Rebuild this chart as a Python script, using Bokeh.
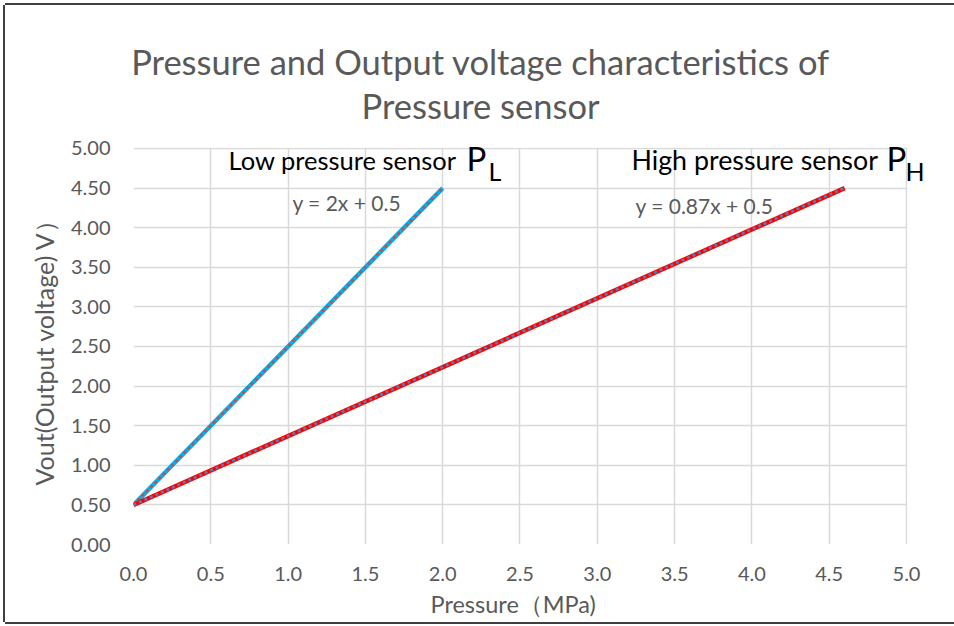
from bokeh.plotting import figure
from bokeh.models import Label, Range1d, FixedTicker, BoxAnnotation, Title
from bokeh.embed import file_html
from bokeh.resources import INLINE

# ---- data ----
pressure_low = [0.0, 2.0]
vout_low = [0.5, 4.5]
pressure_high = [0.0, 4.6]
vout_high = [0.5, 4.5]
trend_low_slope, trend_low_icpt = 2.0, 0.5
trend_high_slope, trend_high_icpt = 0.87, 0.5
x_ticks = [0.0, 0.5, 1.0, 1.5, 2.0, 2.5, 3.0, 3.5, 4.0, 4.5, 5.0]
x_tick_labels = ["0.0", "0.5", "1.0", "1.5", "2.0", "2.5", "3.0", "3.5", "4.0", "4.5", "5.0"]
y_ticks = [0.0, 0.5, 1.0, 1.5, 2.0, 2.5, 3.0, 3.5, 4.0, 4.5, 5.0]
y_tick_labels = ["0.00", "0.50", "1.00", "1.50", "2.00", "2.50", "3.00", "3.50", "4.00", "4.50", "5.00"]
x_max, y_max = 5.0, 5.0

trend_low_y = [trend_low_slope * x + trend_low_icpt for x in pressure_low]
trend_high_y = [trend_high_slope * x + trend_high_icpt for x in pressure_high]

FONT = "Lato"
GRAY = "#595959"
GRID = "#D9D9D9"

# frame extends beyond the 0..5 plot area (right and top) so that
# title and side labels can be drawn inside it; the extra area is masked white
p = figure(width=949, height=616, output_backend="svg", toolbar_location=None,
           x_range=Range1d(0, 5.1876), y_range=Range1d(0, 6.3636),
           frame_width=802, frame_height=504,
           min_border_left=128, min_border_right=19, min_border_top=35, min_border_bottom=77)
p.stylesheets = [":host { margin-left: 5px; margin-top: 5px; "
                 "box-shadow: -2px 0 0 0 #404040, 0 -2px 0 0 #404040, 0 2px 0 0 #404040; }"]
p.title.visible = False
p.background_fill_color = "white"
p.border_fill_color = "white"
p.outline_line_color = None

for ax in (p.xaxis[0], p.yaxis[0]):
    ax.axis_line_color = None
    ax.major_tick_line_color = None
    ax.minor_tick_line_color = None
    ax.major_tick_out = 0
    ax.major_tick_in = 0
    ax.major_label_text_font = FONT
    ax.major_label_text_font_size = "20px"
    ax.major_label_text_color = GRAY

p.xaxis.bounds = (0, x_max)
p.yaxis.bounds = (0, y_max)
p.xaxis.ticker = FixedTicker(ticks=x_ticks)
p.xaxis.major_label_overrides = dict(zip(x_ticks, x_tick_labels))
p.yaxis.ticker = FixedTicker(ticks=y_ticks)
p.yaxis.major_label_overrides = dict(zip(y_ticks, y_tick_labels))
p.xaxis.major_label_standoff = 22
p.yaxis.major_label_standoff = 23

# axis titles as side titles, positioned over the 0..5 plot area
p.add_layout(Title(text="Pressure\uff08MPa)", align="left", offset=297, standoff=9,
                   text_font=FONT, text_font_size="23.5px", text_color=GRAY,
                   text_font_style="normal"), "below")
p.add_layout(Title(text="Vout(Output voltage) V\uff09", align="left", offset=59, standoff=18,
                   text_font=FONT, text_font_size="25px", text_color=GRAY,
                   text_font_style="normal"), "left")

p.xgrid.grid_line_color = GRID
p.ygrid.grid_line_color = GRID
p.xgrid.grid_line_width = 1.5
p.ygrid.grid_line_width = 1.5

# masks over the grid outside the 0..5 plot area
p.add_layout(BoxAnnotation(left=x_max + 0.005, right=20, bottom=-1, top=20,
                           fill_color="white", fill_alpha=1, line_color=None, level="underlay"))
p.add_layout(BoxAnnotation(left=-1, right=20, bottom=y_max + 0.010, top=20,
                           fill_color="white", fill_alpha=1, line_color=None, level="underlay"))

# series
p.line(pressure_low, vout_low, line_color="#00B0F0", line_width=4.5)
p.line(pressure_low, trend_low_y, line_color="#C0504D", line_width=2.5, line_dash="3 3")
p.line(pressure_high, vout_high, line_color="#FF0000", line_width=4.5)
p.line(pressure_high, trend_high_y, line_color="#4F81BD", line_width=2.5, line_dash="3 3")

def lab(x, y, text, size, color="black", align="left", baseline="alphabetic"):
    p.add_layout(Label(x=x, y=y, text=text, text_font=FONT, text_font_size=size,
                       text_color=color, text_align=align, text_baseline=baseline))

# title
lab(2.245, 6.098, "Pressure and Output voltage characteristics of", "34.5px", GRAY, "center")
lab(2.245, 5.543, "Pressure sensor", "34.5px", GRAY, "center")

# series annotations
lab(0.6145, 4.861, "Low pressure sensor", "25.5px")
lab(2.154, 4.880, "P", "33px")
lab(2.296, 4.710, "L", "25px")
lab(3.221, 4.861, "High pressure sensor", "26.8px")
lab(4.871, 4.880, "P", "33px")
lab(4.994, 4.710, "H", "25px")
lab(1.028, 4.312, "y = 2x + 0.5", "21px", GRAY)
lab(3.247, 4.274, "y = 0.87x + 0.5", "21px", GRAY)

open("out.html", "w").write(file_html(p, INLINE))
